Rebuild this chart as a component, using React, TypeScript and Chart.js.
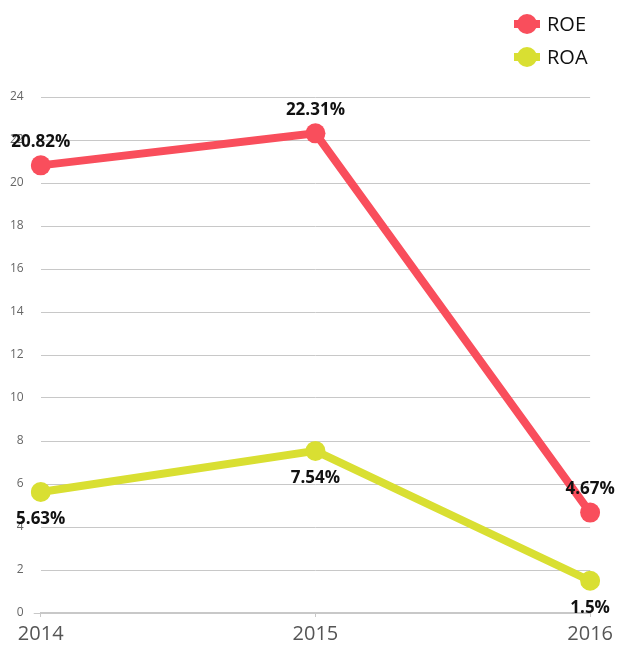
import React, { useEffect, useRef } from "react";
import { Chart, registerables } from "chart.js";

Chart.register(...registerables);

const years = ["2014", "2015", "2016"];
const roe = [20.82, 22.31, 4.67];
const roa = [5.63, 7.54, 1.5];
const seriesNames = ["ROE", "ROA"];
const seriesColors = ["#F94E5C", "#D9DF32"];
const yTicksMax = 24;
const yStep = 2;

const FONT = "'Open Sans', 'Noto Sans', sans-serif";

const labelPlugin = {
  id: "valueLabels",
  afterDatasetsDraw(chart: any) {
    const ctx = chart.ctx;
    ctx.save();
    ctx.font = `bold 17px ${FONT}`;
    ctx.fillStyle = "#111";
    ctx.textAlign = "center";
    ctx.textBaseline = "middle";
    chart.data.datasets.forEach((ds: any, di: number) => {
      const meta = chart.getDatasetMeta(di);
      meta.data.forEach((pt: any, i: number) => {
        const v = ds.data[i];
        const dy = di === 0 ? -23 : 27;
        ctx.fillText(`${v}%`, pt.x, pt.y + dy);
      });
    });
    ctx.restore();
  },
};

const legendPlugin = {
  id: "customLegend",
  afterDraw(chart: any) {
    const ctx = chart.ctx;
    ctx.save();
    seriesNames.forEach((name, i) => {
      const cy = 24 + i * 33;
      const cx = 527;
      ctx.fillStyle = seriesColors[i];
      ctx.fillRect(cx - 13, cy - 4, 26, 8);
      ctx.beginPath();
      ctx.arc(cx, cy, 10, 0, Math.PI * 2);
      ctx.fill();
      ctx.fillStyle = "#111";
      ctx.font = `20px ${FONT}`;
      ctx.textAlign = "left";
      ctx.textBaseline = "middle";
      ctx.fillText(name, 547, cy + 1);
    });
    ctx.restore();
  },
};

export default function App() {
  const ref = useRef<HTMLCanvasElement | null>(null);
  useEffect(() => {
    if (!ref.current) return;
    const chart = new Chart(ref.current, {
      type: "line",
      data: {
        labels: years,
        datasets: [roe, roa].map((d, i) => ({
          label: seriesNames[i],
          data: d,
          borderColor: seriesColors[i],
          backgroundColor: seriesColors[i],
          borderWidth: 8,
          pointRadius: 10,
          pointHoverRadius: 10,
          pointBorderWidth: 0,
          tension: 0,
          fill: false,
        })),
      },
      options: {
        animation: false,
        responsive: true,
        maintainAspectRatio: false,
        layout: { padding: { top: 97, left: 0, bottom: 0, right: -6 } },
        plugins: {
          legend: { display: false },
          tooltip: { enabled: false },
        },
        scales: {
          x: {
            offset: false,
            grid: {
              display: true,
              drawOnChartArea: false,
              drawTicks: true,
              tickLength: 4,
              color: "#c8c8c8",
            },
            border: { display: true, color: "#c8c8c8", width: 2 },
            ticks: {
              color: "#555",
              font: { family: FONT, size: 20 },
              padding: 5,
              maxRotation: 0,
            },
          },
          y: {
            min: 0,
            max: yTicksMax,
            grid: {
              color: "#c8c8c8",
              lineWidth: 1,
              drawTicks: true,
              tickLength: 7,
              tickColor: (c: any) => (c.tick && c.tick.value === 0 ? "#c8c8c8" : "rgba(0,0,0,0)"),
            },
            border: { display: false },
            ticks: {
              stepSize: yStep,
              color: "#666",
              font: { family: FONT, size: 12 },
              padding: 10,
            },
          },
        },
      },
      plugins: [labelPlugin, legendPlugin],
    });
    return () => chart.destroy();
  }, []);
  return (
    <div style={{ position: "fixed", left: 0, top: 0, width: 618, height: 651 }}>
      <canvas ref={ref} />
    </div>
  );
}
